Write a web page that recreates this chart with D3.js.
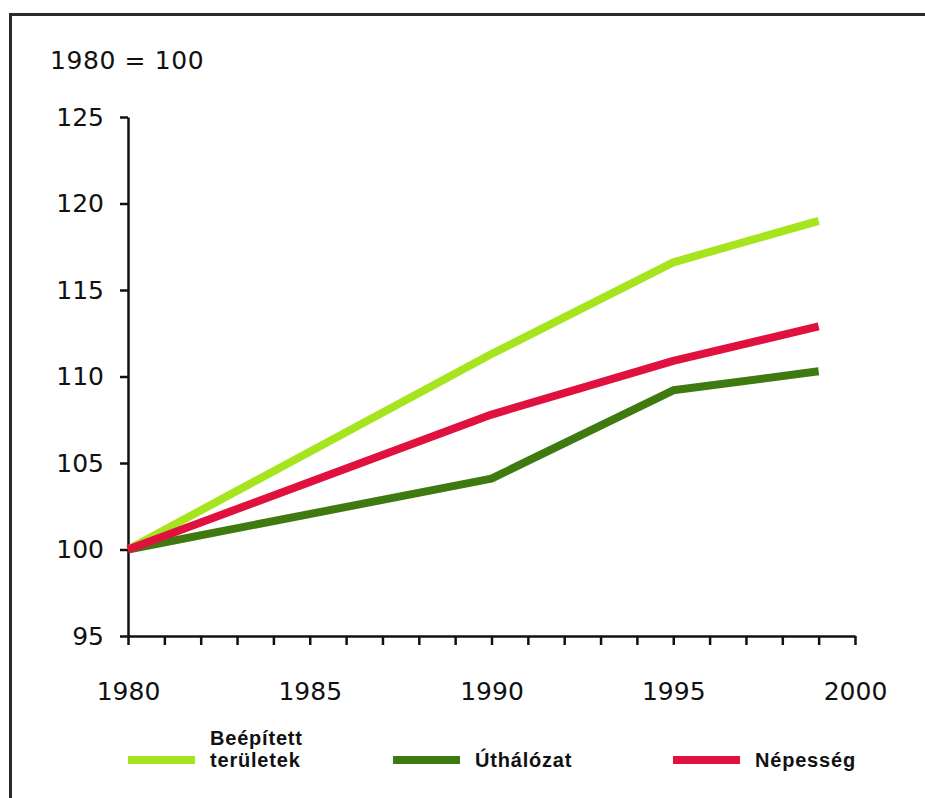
<!DOCTYPE html>
<html>
<head>
<meta charset="utf-8">
<script src="https://cdn.jsdelivr.net/npm/d3@7"></script>
<style>
  html, body { margin: 0; padding: 0; background: #ffffff; }
  svg { display: block; }
</style>
</head>
<body>
<svg id="chart" width="925" height="798"></svg>
<script>
// Index values, 1980 = 100
const years = [1980, 1990, 1995, 1999];
const beepitett = [100, 111.3, 116.6, 119.0];
const uthalozat = [100, 104.1, 109.2, 110.3];
const nepesseg = [100, 107.8, 110.9, 112.9];

const seriesNames = ["Beépített területek", "Úthálózat", "Népesség"];
const seriesColors = ["#a6e41e", "#3e7a10", "#e0113f"];

const yTicks = [95, 100, 105, 110, 115, 120, 125];
const xLabelYears = [1980, 1985, 1990, 1995, 2000];
const xMinorYears = d3.range(1980, 2001);

const svg = d3.select("#chart");

// frame
svg.append("path")
  .attr("d", "M10.5,798 V14.5 H925")
  .attr("fill", "none")
  .attr("stroke", "#2b2b2b")
  .attr("stroke-width", 3);

const x = d3.scaleLinear().domain([1980, 2000]).range([128, 855]);
const y = d3.scaleLinear().domain([95, 125]).range([636, 117]);

const axisFont = "'DejaVu Sans', Verdana, sans-serif";
const axisSize = 25;

// unit caption
svg.append("text")
  .attr("x", 50).attr("y", 69)
  .attr("font-family", axisFont)
  .attr("font-size", 25)
  .attr("letter-spacing", "0.6px")
  .attr("fill", "#111")
  .text("1980 = 100");

// y axis
const yAxis = svg.append("g")
  .attr("transform", `translate(${x(1980)},0)`)
  .call(d3.axisLeft(y).tickValues(yTicks).tickSize(8).tickPadding(16).tickSizeOuter(0));
yAxis.select(".domain").attr("stroke", "#111").attr("stroke-width", 2.5);
yAxis.selectAll(".tick line").attr("stroke", "#111").attr("stroke-width", 2.5);
yAxis.selectAll(".tick text")
  .attr("font-family", axisFont)
  .attr("font-size", axisSize)
  .attr("fill", "#111");

// x axis: a tick every year, labels every five years
const xAxis = svg.append("g")
  .attr("transform", `translate(0,${y(95)})`)
  .call(d3.axisBottom(x).tickValues(xMinorYears).tickSize(9).tickSizeOuter(0)
    .tickFormat(d => xLabelYears.includes(d) ? String(d) : ""));
xAxis.select(".domain").attr("stroke", "#111").attr("stroke-width", 2.5);
xAxis.selectAll(".tick line").attr("stroke", "#111").attr("stroke-width", 2.5);
xAxis.selectAll(".tick text")
  .attr("font-family", axisFont)
  .attr("font-size", axisSize)
  .attr("fill", "#111")
  .attr("y", 46)
  .attr("dy", "0.71em");

// series lines
const data = [beepitett, uthalozat, nepesseg];
const line = d3.line()
  .x((d, i) => x(years[i]))
  .y(d => y(d));

data.forEach((vals, k) => {
  svg.append("path")
    .datum(vals)
    .attr("d", line)
    .attr("fill", "none")
    .attr("stroke", seriesColors[k])
    .attr("stroke-width", 8)
    .attr("stroke-linejoin", "round")
    .attr("stroke-linecap", "butt");
});

// legend
const legendFont = "'Liberation Sans', Arial, Helvetica, sans-serif";
const legendX = [128, 393, 673];
seriesNames.forEach((name, k) => {
  const g = svg.append("g").attr("transform", `translate(${legendX[k]},0)`);
  g.append("rect")
    .attr("x", 0).attr("y", 756)
    .attr("width", 67).attr("height", 8)
    .attr("fill", seriesColors[k]);
  const parts = name.split(" ");
  const lines = parts.length > 1 ? parts : [name];
  const baseY = lines.length > 1 ? 745 : 767;
  lines.forEach((t, j) => {
    g.append("text")
      .attr("x", 82)
      .attr("y", baseY + j * 22)
      .attr("font-family", legendFont)
      .attr("font-weight", "bold")
      .attr("font-size", 20)
      .attr("letter-spacing", "0.8px")
      .attr("fill", "#111")
      .text(t);
  });
});
</script>
</body>
</html>
